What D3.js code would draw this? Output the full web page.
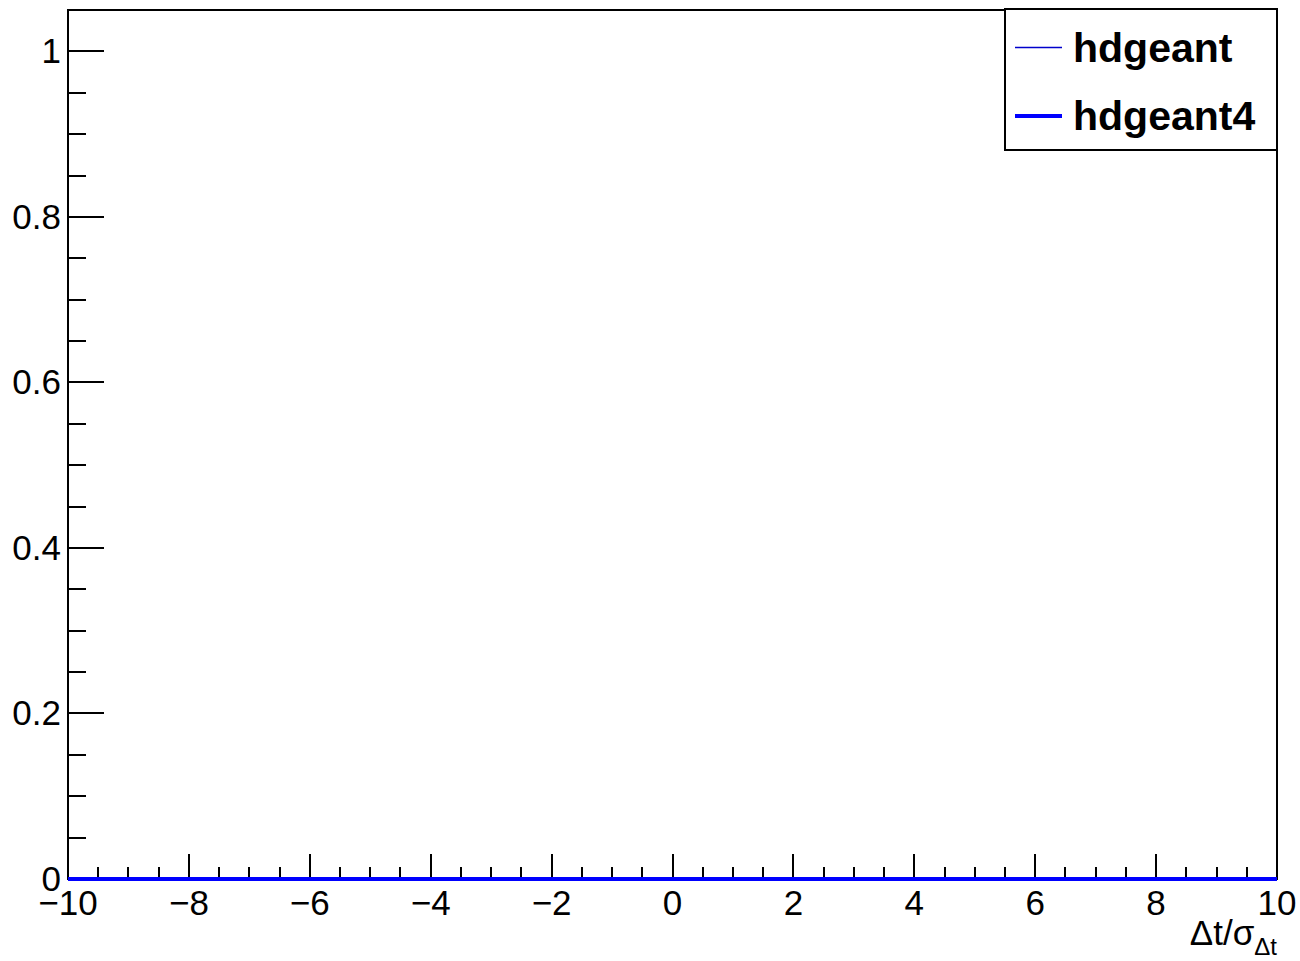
<!DOCTYPE html>
<html><head><meta charset="utf-8">
<script src="https://cdn.jsdelivr.net/npm/d3@7"></script>
<style>body{margin:0;background:#fff}</style>
</head><body>
<script>
const binEdges = [-10,-9,-8,-7,-6,-5,-4,-3,-2,-1,0,1,2,3,4,5,6,7,8,9,10];
const hdgeant  = [0,0,0,0,0,0,0,0,0,0,0,0,0,0,0,0,0,0,0,0];
const hdgeant4 = [0,0,0,0,0,0,0,0,0,0,0,0,0,0,0,0,0,0,0,0];
const xTicks = [-10,-8,-6,-4,-2,0,2,4,6,8,10];
const yTicks = [0,0.2,0.4,0.6,0.8,1];
const seriesNames = ["hdgeant","hdgeant4"];

const W=1300,H=961;
const L=68,R=1277,T=10,B=879;
const svg=d3.select("body").append("svg").attr("width",W).attr("height",H);
const x=d3.scaleLinear().domain([-10,10]).range([L,R]);
const y=d3.scaleLinear().domain([0,1.05]).range([B,T]);

// frame
svg.append("rect").attr("x",L).attr("y",T).attr("width",R-L).attr("height",B-T)
  .attr("fill","none").attr("stroke","#000").attr("stroke-width",2);

// y ticks
const yMinor=d3.range(0,1.0501,0.05);
svg.selectAll(".ym").data(yMinor).enter().append("line")
  .attr("x1",L).attr("x2",(d,i)=>L+(i%4===0?36:18))
  .attr("y1",d=>Math.round(y(d))).attr("y2",d=>Math.round(y(d)))
  .attr("stroke","#000").attr("stroke-width",2);
svg.selectAll(".yl").data(yTicks).enter().append("text")
  .attr("x",L-7).attr("y",d=>y(d)+12).attr("text-anchor","end")
  .attr("font-family","Liberation Sans, Arial, sans-serif").attr("font-size",35)
  .text(d=>d3.format("")(d));

// x ticks
const xMinor=d3.range(-10,10.001,0.5);
svg.selectAll(".xm").data(xMinor).enter().append("line")
  .attr("x1",d=>Math.round(x(d))).attr("x2",d=>Math.round(x(d)))
  .attr("y1",B).attr("y2",(d,i)=>B-(i%4===0?25:12))
  .attr("stroke","#000").attr("stroke-width",2);
svg.selectAll(".xl").data(xTicks).enter().append("text")
  .attr("x",d=>x(d)).attr("y",915).attr("text-anchor","middle")
  .attr("font-family","Liberation Sans, Arial, sans-serif").attr("font-size",35)
  .text(d=>d<0?"\u2212"+Math.abs(d):String(d));

// histograms (drawn over the frame)
function stepPath(vals){
  const pts=[];
  vals.forEach((v,i)=>{pts.push([binEdges[i],v]);pts.push([binEdges[i+1],v]);});
  return d3.line().x(d=>x(d[0])).y(d=>y(d[1]))(pts);
}
svg.append("path").attr("d",stepPath(hdgeant)).attr("fill","none").attr("stroke","#0000cc").attr("stroke-width",1);
svg.append("path").attr("d",stepPath(hdgeant4)).attr("fill","none").attr("stroke","#0000ff").attr("stroke-width",4);

// x title
const xt=svg.append("text").attr("x",R).attr("y",945).attr("text-anchor","end")
  .attr("font-family","Liberation Sans, Arial, sans-serif").attr("font-size",35);
xt.append("tspan").text("\u0394t/\u03c3");
xt.append("tspan").attr("font-size",24).attr("dy",10).text("\u0394t");

// legend
const lg=svg.append("g");
lg.append("rect").attr("x",1005).attr("y",9).attr("width",272).attr("height",141)
  .attr("fill","#fff").attr("stroke","#000").attr("stroke-width",2);
const ly=[47.5,116];
const lw=[1.5,4], lc=["#0000cc","#0000ff"];
seriesNames.forEach((n,i)=>{
  lg.append("line").attr("x1",1015).attr("x2",1062).attr("y1",ly[i]).attr("y2",ly[i])
    .attr("stroke",lc[i]).attr("stroke-width",lw[i]);
  lg.append("text").attr("x",1073).attr("y",Math.round(ly[i])+14)
    .attr("font-family","Liberation Sans, Arial, sans-serif").attr("font-weight","bold")
    .attr("font-size",41).text(n);
});
</script>
</body></html>
